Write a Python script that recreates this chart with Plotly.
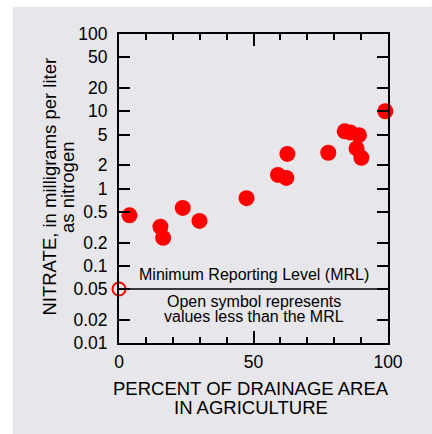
import plotly.graph_objects as go

# Percent of drainage area in agriculture vs. nitrate concentration (mg/L as N)
pct_agriculture = [3.9, 15.4, 16.4, 23.7, 29.9, 47.4, 59.1, 62.2, 62.6, 77.8,
                   83.9, 86.0, 89.2, 88.3, 90.1, 99.0, 100.1]
nitrate = [0.45, 0.32, 0.23, 0.56, 0.38, 0.75, 1.5, 1.37, 2.8, 2.9,
           5.5, 5.3, 4.9, 3.3, 2.5, 10.0, 10.0]

# Site with concentration below the minimum reporting level
censored_pct = [0]
censored_nitrate = [0.05]
mrl = 0.05

y_tickvals = [0.01, 0.02, 0.05, 0.1, 0.2, 0.5, 1, 2, 5, 10, 20, 50, 100]
y_ticktext = ["0.01", "0.02", "0.05", "0.1", "0.2", "0.5", "1", "2", "5",
              "10", "20", "50", "100"]
x_tickvals = [0, 50, 100]
x_ticktext = ["0", "50", "100"]

W, H = 432, 434
L, R, T, B = 119.3, 43.7, 34.3, 91
PW, PH = W - L - R, H - T - B
BG = "#e6e6eb"
FONT = "Liberation Sans, Arial, sans-serif"


def px_x(px):
    return (px - L) / PW


def px_y(py):
    return (H - B - py) / PH


fig = go.Figure()

fig.add_trace(go.Scatter(
    x=pct_agriculture, y=nitrate, mode="markers",
    marker=dict(color="#ff0000", size=16, line=dict(width=0)),
    showlegend=False, hoverinfo="skip", cliponaxis=False,
))
fig.add_trace(go.Scatter(
    x=censored_pct, y=censored_nitrate, mode="markers",
    marker=dict(color="#ff0000", size=13, symbol="circle-open",
                line=dict(color="#ff0000", width=2)),
    showlegend=False, hoverinfo="skip", cliponaxis=False,
))

shapes = [
    # white strips along the top and left edges of the page
    dict(type="rect", xref="paper", yref="paper", x0=px_x(0), x1=px_x(W),
         y0=px_y(7), y1=px_y(0), fillcolor="white", line=dict(width=0),
         layer="below"),
    dict(type="rect", xref="paper", yref="paper", x0=px_x(0), x1=px_x(13),
         y0=px_y(H), y1=px_y(0), fillcolor="white", line=dict(width=0),
         layer="below"),
    # minimum reporting level line
    dict(type="line", xref="x", yref="y", x0=0, x1=100, y0=mrl, y1=mrl,
         line=dict(color="black", width=1.6), layer="below"),
]

ann = []


def text_at(px, py, s, size, angle=0):
    ann.append(dict(x=px_x(px), y=px_y(py), xref="paper", yref="paper",
                    text=s, showarrow=False, textangle=angle,
                    xanchor="center", yanchor="middle",
                    font=dict(family=FONT, size=size, color="black")))


text_at(253.8, 275, "Minimum Reporting Level (MRL)", 16)
text_at(253.8, 301.5, "Open symbol represents", 16)
text_at(253.8, 317, "values less than the MRL", 16)
text_at(251.7, 388, "PERCENT OF DRAINAGE AREA", 18.5)
text_at(251.7, 407.5, "IN AGRICULTURE", 18.5)
text_at(50, 187, "NITRATE, in milligrams per liter", 18.5, -90)
text_at(68.5, 187, "as nitrogen", 18.5, -90)

axis_common = dict(
    showgrid=False, zeroline=False, showline=True, linecolor="black",
    linewidth=2, mirror="allticks", ticks="inside", tickcolor="black",
    tickwidth=1.5, tickfont=dict(family=FONT, size=17.5, color="black"),
)

fig.update_layout(
    width=W, height=H,
    margin=dict(l=L, r=R, t=T, b=B, pad=0),
    paper_bgcolor=BG, plot_bgcolor=BG,
    shapes=shapes, annotations=ann,
    xaxis=dict(range=[0, 100], tickvals=x_tickvals, ticktext=x_ticktext,
               ticklen=12, ticklabelstandoff=2,
               minor=dict(tickvals=list(range(0, 101, 10)), ticklen=6,
                          ticks="inside", tickcolor="black", tickwidth=1.5),
               **axis_common),
    yaxis=dict(type="log", range=[-2, 2], tickvals=y_tickvals,
               ticktext=y_ticktext, ticklen=11, ticklabelstandoff=6,
               **axis_common),
)

fig.write_html("out.html")
